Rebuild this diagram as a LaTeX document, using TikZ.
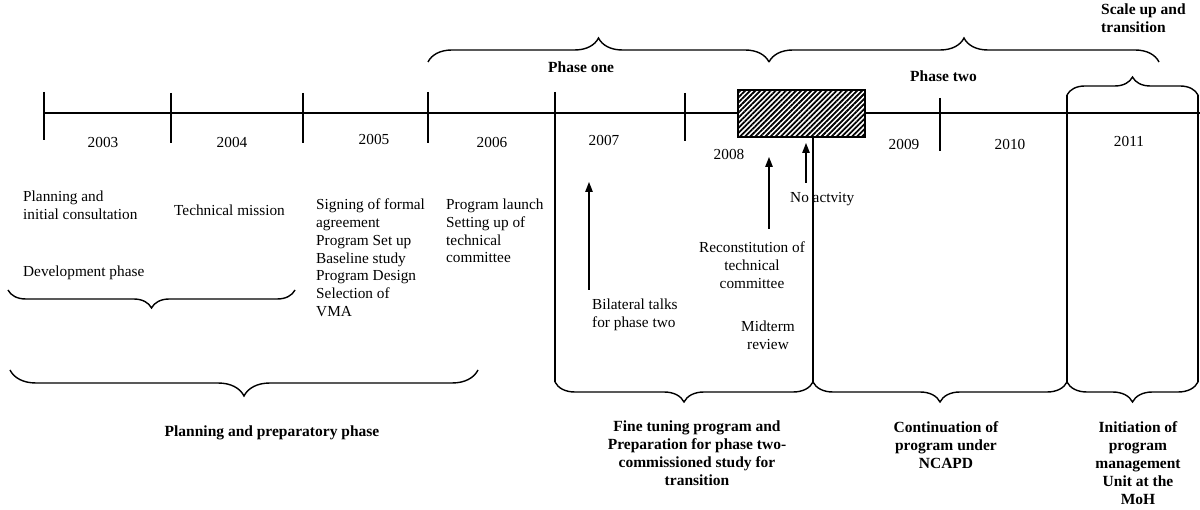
\documentclass[tikz,border=0pt]{standalone}
\usepackage{fontspec}
\setmainfont{Liberation Serif}
\usetikzlibrary{decorations.pathreplacing,arrows.meta,patterns.meta}
\begin{document}
\begin{tikzpicture}[x=1pt,y=-1pt,
  txt/.style={inner sep=0pt,font=\fontsize{15.3}{17.7}\selectfont},
  btxt/.style={inner sep=0pt,font=\fontsize{15.5}{18}\selectfont\bfseries},
  axisline/.style={line width=2.2pt},
  tickline/.style={line width=1.3pt},
  armline/.style={line width=1.4pt},
  brc/.style={decorate,decoration={brace,amplitude=#1},line width=1.4pt},
  arr/.style={line width=1.3pt,-{Triangle[length=10pt,width=7.5pt]}}]
\useasboundingbox (0,0) rectangle (1200,510);

% timeline
\draw[axisline] (44,113) -- (1200,113);
\foreach \x/\a/\b in {44/92/140,171/93/143,303/93/143,428/92/143,685/93/141,940/98/151}
  \draw[tickline] (\x,\a) -- (\x,\b);

% hatched box
\draw[line width=1.4pt,preaction={fill=white},
  pattern={Lines[angle=45,distance=3.6pt,line width=1.8pt]}] (738,90) rectangle (865,137);

% years
\node[txt,anchor=base] (y03) at (103,148) {2003};
\node[txt,anchor=base] (y04) at (232,148) {2004};
\node[txt,anchor=base] (y05) at (374,145) {2005};
\node[txt,anchor=base] (y06) at (492,148) {2006};
\node[txt,anchor=base] (y07) at (604,146) {2007};
\node[txt,anchor=base] (y08) at (729,160) {2008};
\node[txt,anchor=base] (y09) at (904,150) {2009};
\node[txt,anchor=base] (y10) at (1010,150) {2010};
\node[txt,anchor=base] (y11) at (1129,147) {2011};

% top braces
\draw[brc=24pt] (428,62) -- (769,62);
\draw[brc=24pt] (769,62) -- (1159,62);
\draw[brc=18pt] (1067,95) -- (1198,95);
\node[btxt,anchor=base west] (p1) at (548,73) {Phase one};
\node[btxt,anchor=base west] (p2) at (910,82) {Phase two};
\node[btxt,anchor=north west,align=left] (su) at (1101,4) {Scale up and\\transition};

% tall arms
\draw[armline] (555,92) -- (555,382);
\draw[armline] (813,137) -- (813,382);
\draw[armline] (1067,95) -- (1067,382);
\draw[armline] (1198,95) -- (1198,382);
\draw[brc=20pt] (813,382) -- (555,382);
\draw[brc=20pt] (1067,382) -- (813,382);
\draw[brc=20pt] (1198,382) -- (1067,382);

% left texts
\node[txt,anchor=north west,align=left] (plan) at (23,191) {Planning and\\initial consultation};
\node[txt,anchor=base west] (tech) at (174,216) {Technical mission};
\node[txt,anchor=base west] (dev) at (23,277) {Development phase};
\draw[brc=18pt] (295,290) -- (8,290);
\node[txt,anchor=north west,align=left] (sign) at (316,199) {Signing of formal\\agreement\\Program Set up\\Baseline study\\Program Design\\Selection of\\VMA};
\node[txt,anchor=north west,align=left] (launch) at (446,199) {Program launch\\Setting up of\\technical\\committee};
\draw[brc=26pt] (478,370) -- (10,370);
\node[btxt,anchor=base] (ppp) at (272,437) {Planning and preparatory phase};

% events with arrows
\node[txt,anchor=north west,align=left] (bil) at (592,299) {Bilateral talks\\for phase two};
\node[txt,anchor=north,align=center] (rec) at (752,242) {Reconstitution of\\technical\\committee};
\node[txt,anchor=north,align=center] (mid) at (768,321) {Midterm\\review};
\node[txt,anchor=base west] (noa) at (790,203) {No actvity};
\coordinate (bilS) at (589,290);
\coordinate (bilE) at (589,182);
\coordinate (recS) at (769,229);
\coordinate (recE) at (769,157);
\coordinate (noaS) at (806,183);
\coordinate (noaE) at (806,143);
\draw[arr] (bilS) -- (bilE);
\draw[arr] (recS) -- (recE);
\draw[arr] (noaS) -- (noaE);

% bottom labels
\node[btxt,anchor=north,align=center] (fine) at (697,421) {Fine tuning program and\\Preparation for phase two-\\commissioned study for\\transition};
\node[btxt,anchor=north,align=center] (cont) at (946,421) {Continuation of\\program under\\NCAPD};
\node[btxt,anchor=north,align=center] (init) at (1138,421) {Initiation of\\program\\management\\Unit at the\\MoH};
\end{tikzpicture}
\end{document}
